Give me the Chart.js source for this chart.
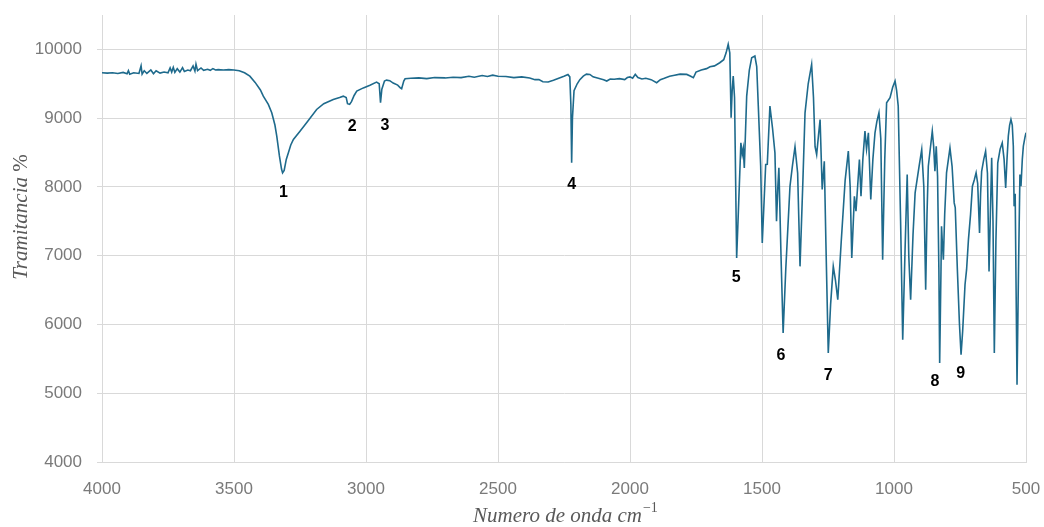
<!DOCTYPE html>
<html>
<head>
<meta charset="utf-8">
<script src="https://cdn.jsdelivr.net/npm/chart.js@4.4.1/dist/chart.umd.min.js"></script>
<style>
  html, body { margin: 0; padding: 0; background: #ffffff; }
  #wrap { width: 1044px; height: 527px; }
</style>
</head>
<body>
<div id="wrap"><canvas id="c" width="1044" height="527"></canvas></div>
<script>
// Wavenumbers (cm^-1)
const wavenumbers = [
4000,3980,3960,3940,3920,3905,3900,3895,3880,3860,3852,3848,3840,3830,3815,3805,3795,3780,3765,3750,
3742,3736,3730,3724,3715,3705,3695,3688,3675,3665,3655,3648,3644,3638,3625,3615,3600,3590,3580,3570,
3560,3540,3520,3500,3480,3460,3440,3420,3400,3389,3370,3357,3345,3338,3328,3320,3316,3310,3302,3294,
3285,3275,3250,3220,3187,3160,3124,3100,3086,3075,3070,3062,3055,3045,3035,3010,2985,2960,2950,2945,
2940,2930,2922,2910,2897,2880,2870,2865,2857,2852,2830,2800,2770,2740,2700,2670,2640,2610,2590,2560,
2540,2520,2500,2470,2440,2410,2380,2360,2345,2330,2310,2290,2270,2250,2235,2228,2224,2221,2218,2212,
2200,2190,2177,2165,2152,2140,2120,2100,2088,2075,2060,2040,2020,2010,2000,1990,1980,1970,1955,1940,
1920,1899,1885,1870,1850,1836,1810,1785,1770,1760,1750,1730,1710,1697,1680,1660,1645,1636,1628,1622,
1617,1613,1609,1604,1596,1588,1580,1575,1571,1567,1558,1548,1539,1527,1520,1514,1505,1499,1492,1486,
1480,1470,1460,1451,1445,1440,1436,1428,1420,1410,1394,1385,1375,1365,1356,1345,1337,1325,1312,1305,
1299,1293,1286,1280,1272,1264,1258,1249,1240,1230,1222,1213,1200,1185,1173,1166,1160,1150,1144,1131,
1125,1118,1110,1104,1097,1088,1080,1072,1065,1057,1050,1043,1035,1028,1015,1005,996,990,984,975,
967,958,950,944,937,928,920,905,895,887,880,875,870,855,850,845,840,835,830,827,
822,820,817,813,808,801,788,780,772,768,760,752,746,740,731,725,718,710,703,696,
689,683,676,672,668,660,653,646,640,635,630,625,620,614,607,598,590,583,577,572,
567,562,557,552,548,545,541,534,528,523,519,514,510,504,500
];
// Transmittance values
const transmittance = [
9660,9655,9660,9650,9665,9645,9690,9640,9660,9650,9760,9640,9690,9650,9700,9645,9690,9655,9670,9660,
9730,9670,9740,9665,9720,9670,9735,9680,9700,9690,9760,9685,9785,9690,9730,9695,9710,9695,9720,9700,
9705,9700,9705,9700,9690,9660,9610,9520,9410,9320,9200,9078,8900,8738,8450,8260,8205,8240,8400,8496,
8610,8690,8811,8960,9126,9210,9272,9300,9320,9300,9210,9200,9240,9330,9393,9440,9480,9524,9500,9224,
9420,9540,9553,9545,9510,9480,9440,9427,9540,9573,9580,9585,9575,9590,9585,9595,9590,9610,9595,9620,
9605,9625,9610,9605,9590,9600,9585,9560,9560,9530,9525,9550,9580,9610,9635,9600,9200,8350,9000,9400,
9500,9560,9611,9640,9636,9600,9580,9560,9540,9570,9565,9575,9560,9590,9600,9580,9636,9590,9570,9580,
9560,9515,9560,9580,9610,9621,9640,9636,9610,9588,9670,9700,9720,9748,9760,9806,9850,9950,10073,9950,
9005,9400,9611,9300,6967,7800,8641,8471,8560,8277,9320,9700,9879,9903,9750,9175,8300,7185,7800,8326,
8330,9175,8850,8496,7500,8000,8277,7000,5875,6800,8010,8300,8584,8200,6845,8100,9078,9500,9782,9300,
8584,8471,8750,8981,7962,8374,7200,5584,6300,6845,6650,6360,7200,8100,8520,8000,6967,7864,7646,8398,
7864,8400,8811,8550,8787,7816,8400,8787,8950,9078,8700,6942,8400,9224,9297,9450,9539,9400,9175,7500,
5777,7100,8180,7000,6360,7300,7913,8300,8544,8000,6505,7600,8301,8811,8600,8228,8592,8156,6800,5438,
6800,7427,7200,6942,7600,8205,8569,8300,7768,7700,6800,6000,5559,5900,6578,6800,7233,7600,8010,8100,
8205,8050,7331,7900,8228,8400,8520,8200,6772,7600,8423,7500,5584,7200,8350,8550,8641,8400,7986,8400,
8738,8900,8981,8900,8592,7718,7900,5122,6900,8180,8010,8400,8592,8720,8787
];
// Peak annotations: label, wavenumber, transmittance position of the label
const peakLabels = ["1","2","3","4","5","6","7","8","9"];
const peakWavenumbers = [3313,3052,2928,2221,1598,1428,1249,845,747];
const peakLabelValues = [7913,8883,8898,8034,6676,5545,5253,5162,5283];

const yTicks = [4000,5000,6000,7000,8000,9000,10000];

const gridColor = '#d9d9d9';
const tickColor = '#7a7a7a';
const titleColor = '#595959';

const annotate = {
  id: 'annotate',
  afterDraw(chart) {
    const ctx = chart.ctx;
    const xs = chart.scales.x, ys = chart.scales.y;
    ctx.save();
    ctx.fillStyle = '#000000';
    ctx.font = 'bold 16px "Liberation Sans", Arial, sans-serif';
    ctx.textAlign = 'center';
    ctx.textBaseline = 'middle';
    peakLabels.forEach((t, i) => {
      ctx.fillText(t, xs.getPixelForValue(peakWavenumbers[i]), ys.getPixelForValue(peakLabelValues[i]));
    });
    // x title
    ctx.fillStyle = titleColor;
    ctx.textAlign = 'left';
    ctx.textBaseline = 'alphabetic';
    ctx.font = 'italic 21px "Liberation Serif", "DejaVu Serif", serif';
    const main = 'Numero de onda cm';
    const x0 = 473, yb = 522;
    ctx.fillText(main, x0, yb);
    const w = ctx.measureText(main).width;
    ctx.font = '14px "Liberation Serif", "DejaVu Serif", serif';
    ctx.fillText('\u22121', x0 + w + 1, yb - 10);
    // y title
    ctx.translate(27, 217);
    ctx.rotate(-Math.PI / 2);
    ctx.font = 'italic 21px "Liberation Serif", "DejaVu Serif", serif';
    const t1 = 'Tramitancia ';
    const w1 = ctx.measureText(t1).width;
    ctx.font = '21px "Liberation Serif", "DejaVu Serif", serif';
    const w2 = ctx.measureText('%').width;
    const start = -(w1 + w2) / 2;
    ctx.font = 'italic 21px "Liberation Serif", "DejaVu Serif", serif';
    ctx.fillText(t1, start, 0);
    ctx.font = '21px "Liberation Serif", "DejaVu Serif", serif';
    ctx.fillText('%', start + w1, 0);
    ctx.restore();
  }
};

new Chart(document.getElementById('c'), {
  type: 'line',
  data: {
    datasets: [{
      data: wavenumbers.map((w, i) => ({ x: w, y: transmittance[i] })),
      borderColor: '#1e6a8c',
      borderWidth: 1.6,
      pointRadius: 0,
      tension: 0,
      fill: false
    }]
  },
  options: {
    responsive: false,
    animation: false,
    events: [],
    layout: { padding: { top: 15, right: 18, left: 0, bottom: 0 } },
    plugins: { legend: { display: false }, tooltip: { enabled: false } },
    scales: {
      x: {
        type: 'linear',
        reverse: true,
        min: 500,
        max: 4000,
        afterFit(s) { s.height = 65; s.paddingLeft = 0; s.paddingRight = 0; },
        ticks: {
          stepSize: 500,
          color: tickColor,
          padding: 17,
          maxRotation: 0,
          font: { family: '"Liberation Sans", Arial, sans-serif', size: 17 },
          callback: v => String(v)
        },
        grid: { color: gridColor, lineWidth: 1, drawTicks: false },
        border: { color: gridColor }
      },
      y: {
        type: 'linear',
        min: 4000,
        max: 10500,
        afterFit(s) { s.width = 102; s.paddingTop = 0; s.paddingBottom = 0; },
        afterBuildTicks(s) { s.ticks = yTicks.map(v => ({ value: v })); },
        ticks: {
          color: tickColor,
          padding: 15,
          font: { family: '"Liberation Sans", Arial, sans-serif', size: 17 },
          callback: v => String(v)
        },
        grid: { color: gridColor, lineWidth: 1, drawTicks: true, tickLength: 5 },
        border: { color: gridColor }
      }
    }
  },
  plugins: [annotate]
});
</script>
</body>
</html>
